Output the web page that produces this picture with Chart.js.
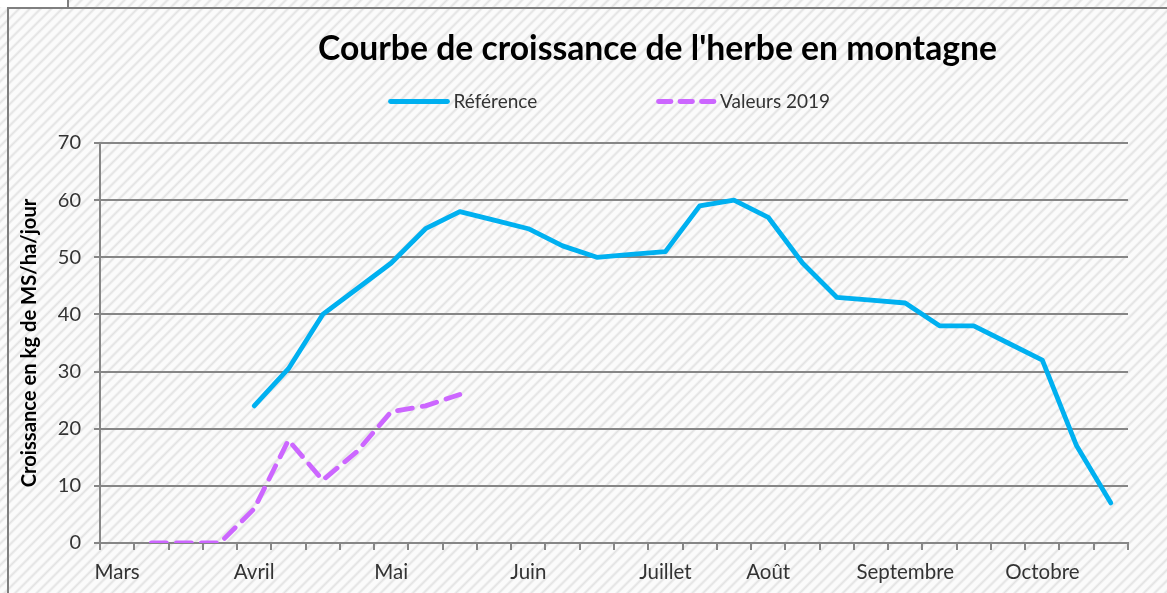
<!DOCTYPE html>
<html>
<head>
<meta charset="utf-8">
<script src="https://cdn.jsdelivr.net/npm/chart.js@4.4.1/dist/chart.umd.min.js"></script>
<style>
  html, body { margin: 0; padding: 0; }
  body {
    width: 1167px; height: 593px; overflow: hidden; position: relative;
    background: repeating-linear-gradient(135deg, #fbfbfb 0px, #fbfbfb 2.5px, #e2e2e2 4.5px, #fbfbfb 6.5px, #fbfbfb 7.6px);
  }
  #frame { position: absolute; left: 7px; top: 7px; width: 1300px; height: 700px;
    border-top: 2px solid #7f7f7f; border-left: 2px solid #7f7f7f; box-sizing: border-box; }
  #corner { position: absolute; left: 0; top: 0; width: 67px; height: 7px; background: #fff;
    border-right: 2px solid #7f7f7f; }
  canvas { position: absolute; left: 0; top: 0; }
</style>
</head>
<body>
<div id="corner"></div>
<div id="frame"></div>
<canvas id="c" width="1167" height="593"></canvas>
<script>
// ---- data ----
const categories = ['Mars','','','','Avril','','','','Mai','','','','Juin','','','',
  'Juillet','','','Août','','','','Septembre','','','','Octobre','',''];
const reference = [null,null,null,null,24,30.5,40,44.5,49,55,58,56.5,55,52,50,50.5,51,59,60,57,49,43,42.5,42,38,38,35,32,17,7];
const valeurs2019 = [null,0,0,0,6,18,11,16,23,24,26,null,null,null,null,null,null,null,null,null,null,null,null,null,null,null,null,null,null,null];
const yTicks = [0,10,20,30,40,50,60,70];
const seriesNames = ['Référence', 'Valeurs 2019'];

const FONT = 'Lato, "Open Sans", sans-serif';
const GRID = '#868686';

const lineLegend = {
  id: 'lineLegend',
  afterLayout(chart) {
    // shift the title centre to where the original places it
    if (chart.titleBlock) { chart.titleBlock.left = 187; }
  },
  afterDraw(chart) {
    const ctx = chart.ctx;
    const y = 101.5;
    const spots = [ {x: 390.5, w: 57, dash: []}, {x: 658.5, w: 55.5, dash: [12.5, 9]} ];
    ctx.save();
    chart.data.datasets.forEach((ds, i) => {
      const s = spots[i];
      ctx.beginPath();
      ctx.setLineDash(s.dash);
      ctx.lineCap = 'round';
      ctx.strokeStyle = ds.borderColor;
      ctx.lineWidth = ds.borderWidth;
      ctx.moveTo(s.x, y);
      ctx.lineTo(s.x + s.w, y);
      ctx.stroke();
      ctx.setLineDash([]);
      ctx.fillStyle = '#333';
      ctx.font = '19px ' + FONT;
      ctx.textBaseline = 'middle';
      ctx.textAlign = 'left';
      ctx.fillText(ds.label, s.x + s.w + 6, y);
    });
    ctx.restore();
  }
};

new Chart(document.getElementById('c'), {
  type: 'line',
  data: {
    labels: categories,
    datasets: [
      { label: seriesNames[0], data: reference, borderColor: '#00B0F0', borderWidth: 4.8,
        pointRadius: 0, tension: 0, spanGaps: false, borderCapStyle: 'round', borderJoinStyle: 'round' },
      { label: seriesNames[1], data: valeurs2019, borderColor: '#CC66FF', borderWidth: 4.8,
        borderDash: [15, 10], borderCapStyle: 'round', borderJoinStyle: 'round',
        pointRadius: 0, tension: 0, spanGaps: false }
    ]
  },
  options: {
    responsive: false,
    animation: false,
    devicePixelRatio: 1,
    layout: { padding: { left: 0, right: 39, top: 0, bottom: 0 } },
    plugins: {
      legend: { display: false },
      tooltip: { enabled: false },
      title: {
        display: true,
        text: "Courbe de croissance de l'herbe en montagne",
        color: '#000',
        font: { family: FONT, size: 33.7, weight: 'bold' },
        padding: { top: 29, bottom: 73.56 }
      }
    },
    scales: {
      x: {
        type: 'category',
        offset: true,
        grid: { offset: true, drawOnChartArea: false, color: GRID, lineWidth: 2, tickLength: 7 },
        border: { display: true, color: GRID, width: 2 },
        ticks: { autoSkip: false, maxRotation: 0, minRotation: 0, padding: 10,
          color: '#333', font: { family: FONT, size: 20.5 } },
        afterFit(s) { s.height = 50; }
      },
      y: {
        min: 0, max: 70,
        afterBuildTicks(s) { s.ticks = yTicks.map(v => ({ value: v })); },
        grid: { color: GRID, lineWidth: 2, tickLength: 6 },
        border: { display: true, color: GRID, width: 2 },
        ticks: { padding: 13, color: '#333', font: { family: FONT, size: 20 } },
        title: { display: true, text: 'Croissance en kg de MS/ha/jour', color: '#000',
          font: { family: FONT, size: 20.2, weight: 'bold' }, padding: { top: 17, bottom: 0 } },
        afterFit(s) { s.width = 100; }
      }
    }
  },
  plugins: [lineLegend]
});
</script>
</body>
</html>
